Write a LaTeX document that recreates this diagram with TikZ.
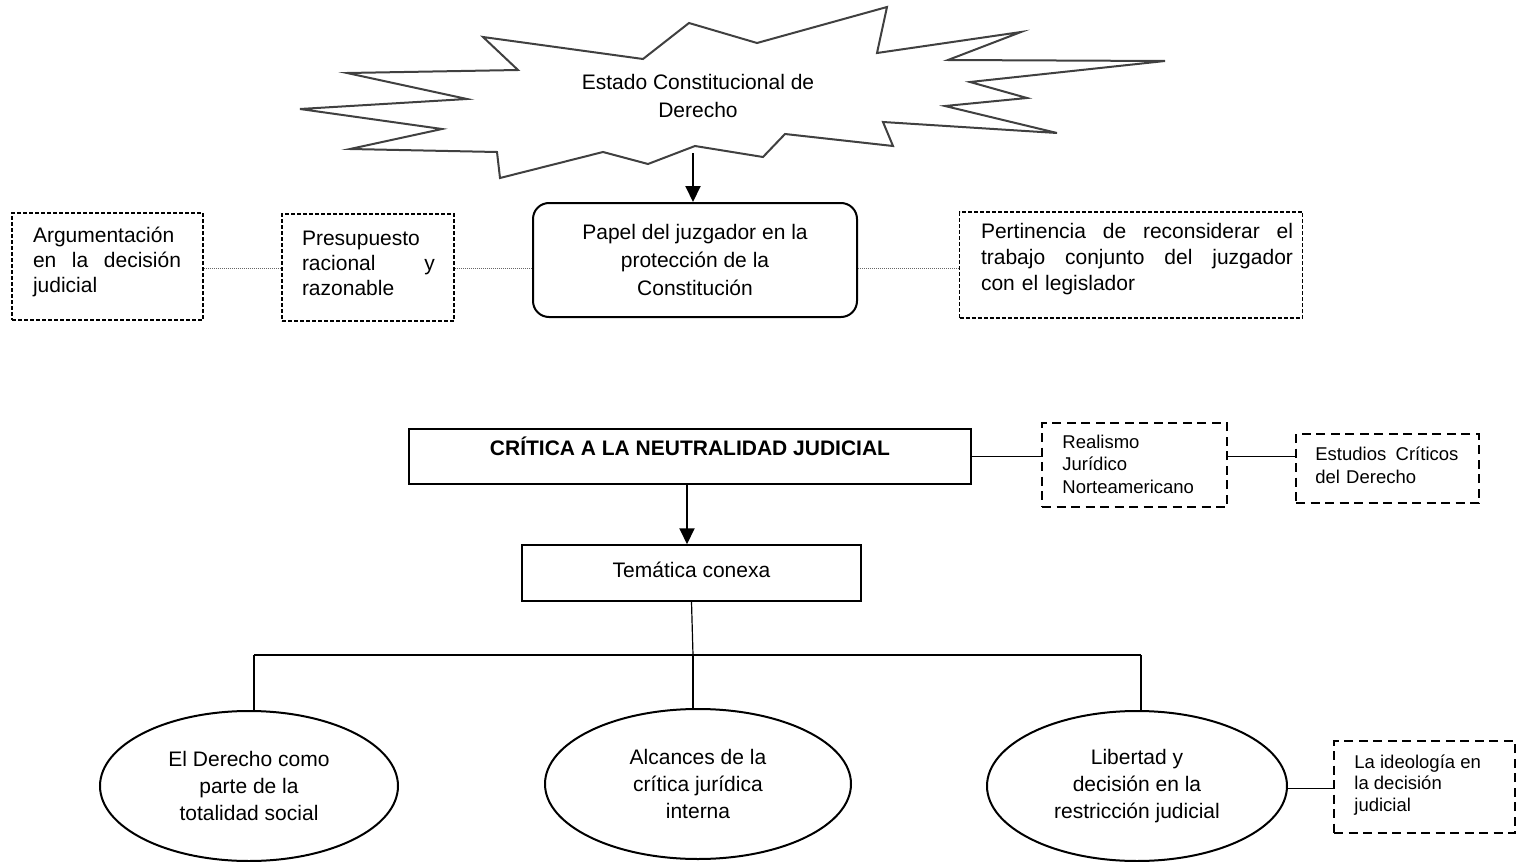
\documentclass[tikz,border=0pt]{standalone}
\usepackage{fontspec}
\setmainfont{Liberation Sans}
\usetikzlibrary{shapes.geometric,arrows.meta}
\newcommand\jline[2]{\leavevmode\hbox to #1{#2}}
\begin{document}
\begin{tikzpicture}[x=0.5pt,y=-0.5pt,
  mainfont/.style={font=\fontsize{10.5}{14}\selectfont},
  boxfont/.style={font=\fontsize{10.5}{12.5}\selectfont},
  ellfont/.style={font=\fontsize{10.5}{13.5}\selectfont},
  smallfont/.style={font=\fontsize{9.25}{11.25}\selectfont},
  burst/.style={draw=black!75, line width=1pt, line join=miter},
  upperdash/.style={draw, line width=0.75pt, dash pattern=on 2pt off 1pt, inner sep=0pt},
  lowerdash/.style={draw, line width=1.3pt, dash pattern=on 4.5pt off 2.75pt, inner sep=0pt},
  dotlink/.style={draw=black!60, line width=0.5pt, dash pattern=on 0.5pt off 0.5pt},
  arr/.style={-{Triangle[length=8pt,width=7.5pt]}, line width=1pt},
  oval/.style={ellipse, draw, line width=1pt, inner sep=0pt, align=center, ellfont},
  txt/.style={inner sep=0pt, align=left},
  link/.style={line width=0.75pt}
]
\useasboundingbox (0,0) rectangle (1517,862);

% ---- starburst ----
\draw[burst] (483,37) -- (643,59) -- (689,23) -- (757,43) -- (887,7) -- (877,53)
  -- (1021,32) -- (948,60) -- (1165,61) -- (970,82) -- (1027,98) -- (945,106)
  -- (1057,133) -- (883,122) -- (893,146) -- (785,134) -- (763,157) -- (695,146)
  -- (648,164) -- (603,152) -- (500,178) -- (497,152) -- (350,149) -- (442,129)
  -- (300,109) -- (467,99) -- (347,73) -- (518,70) -- cycle;
\node[mainfont, align=center, inner sep=0pt] (estado) at (698,96) {Estado Constitucional de\\Derecho};

% ---- upper row ----
\node[draw, rounded corners=8pt, line width=1pt, minimum width=162pt, minimum height=57pt,
      inner sep=0pt, align=center, mainfont] (papel) at (695,260)
      {Papel del juzgador en la\\protección de la\\Constitución};
\coordinate (burstbot) at (693,153);
\draw[arr] (burstbot) -- (burstbot |- papel.north);

\node[upperdash, minimum width=95.5pt, minimum height=53.5pt] (arg) at (107.5,266.5) {};
\node[txt, boxfont, text width=74pt] (argtxt) at (107,261.5)
  {Argumentación\\\jline{74pt}{en\hfill la\hfill decisión}\\judicial};

\node[upperdash, minimum width=86pt, minimum height=53.5pt] (presu) at (368,267.5) {};
\node[txt, boxfont, text width=66.5pt] (presutxt) at (368.5,263)
  {Presupuesto\\\jline{66.5pt}{racional\hfill y}\\razonable};

\node[upperdash, minimum width=171.5pt, minimum height=53pt] (pert) at (1131,265) {};
\node[txt, font=\fontsize{10.5}{13}\selectfont, text width=156pt] (perttxt) at (1137,259)
  {\jline{156pt}{Pertinencia\hfill de\hfill reconsiderar\hfill el}\\\jline{156pt}{trabajo\hfill conjunto\hfill del\hfill juzgador}\\con el legislador};

\coordinate (dl) at (0,268);
\draw[dotlink] (arg.east |- dl) -- (presu.west |- dl);
\draw[dotlink] (presu.east |- dl) -- (papel.west |- dl);
\draw[dotlink] (papel.east |- dl) -- (pert.west |- dl);

% ---- lower part ----
\node[draw, line width=1pt, minimum width=281pt, inner sep=0pt, text height=13.25pt, text depth=14.25pt,
      font=\bfseries\fontsize{10.5}{14}\selectfont] (critica) at (690,456.5)
      {CRÍTICA A LA NEUTRALIDAD JUDICIAL};
\node[draw, line width=0.75pt, minimum width=169.5pt, inner sep=0pt, text height=16.25pt, text depth=11.75pt,
      mainfont] (tematica) at (691.5,573) {Temática conexa};
\coordinate (ax) at (687,0);
\draw[arr] (critica.south -| ax) -- (tematica.north -| ax);

\node[lowerdash, minimum width=92.5pt, minimum height=42pt] (realismo) at (1134.5,465) {};
\node[txt, smallfont, anchor=west] (realtxt) at (1062,464) {Realismo\\Jurídico\\Norteamericano};
\node[lowerdash, minimum width=91.5pt, minimum height=34.5pt] (estudios) at (1387.5,468.5) {};
\node[txt, smallfont, anchor=west, text width=71.5pt] (estxt) at (1315,465.5)
  {\jline{71.5pt}{Estudios\hfill Críticos}\\del Derecho};
\draw[link] (critica.east) -- (critica.east -| realismo.west);
\draw[link] (realismo.east |- critica.east) -- (estudios.west |- critica.east);

\node[oval, minimum width=149pt, minimum height=75pt] (e1) at (249,786) {El Derecho como\\parte de la\\totalidad social};
\node[oval, minimum width=153pt, minimum height=75pt] (e2) at (698,784) {Alcances de la\\crítica jurídica\\interna};
\node[oval, minimum width=150pt, minimum height=75pt] (e3) at (1137,786) {Libertad y\\decisión en la\\restricción judicial};

\coordinate (j1) at (254,655);
\coordinate (j2) at (693,655);
\coordinate (j3) at (1141,655);
\draw[line width=0.6pt] (tematica.south) -- (j2);
\draw[line width=0.6pt] (j1) -- (j3);
\draw[line width=1pt] (j1) -- (j1 |- e1.north);
\draw[line width=1pt] (j2) -- (j2 |- e2.north);
\draw[line width=1pt] (j3) -- (j3 |- e3.north);

\node[lowerdash, minimum width=90.5pt, minimum height=46pt] (ideo) at (1424.5,787) {};
\node[txt, font=\fontsize{9.25}{10.75}\selectfont, anchor=west] (ideotxt) at (1354,785) {La ideología en\\la decisión\\judicial};
\draw[link] (e3.-1.5) -- (e3.-1.5 -| ideo.west);
\end{tikzpicture}
\end{document}
